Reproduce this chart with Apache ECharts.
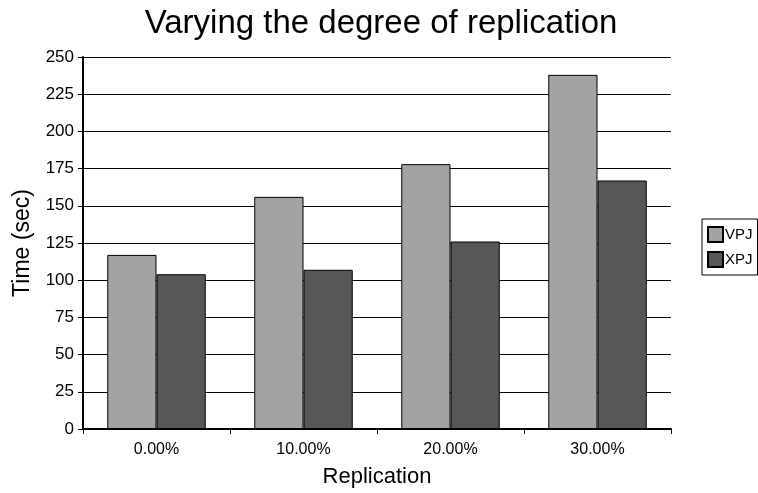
<!DOCTYPE html>
<html>
<head>
<meta charset="utf-8">
<script src="https://cdn.jsdelivr.net/npm/echarts@6/dist/echarts.min.js"></script>
<style>html,body{margin:0;padding:0;background:#fff}#c{width:758px;height:493px}</style>
</head>
<body>
<div id="c"></div>
<script>
const categories = ['0.00%', '10.00%', '20.00%', '30.00%'];
const vpj = [117, 156, 178, 238];
const xpj = [104, 107, 126, 167];
const yTicks = [0, 25, 50, 75, 100, 125, 150, 175, 200, 225, 250];

const FONT = '"Liberation Sans", Arial, sans-serif';
const chart = echarts.init(document.getElementById('c'));
chart.setOption({
  backgroundColor: '#fff',
  animation: false,
  textStyle: { fontFamily: FONT, color: '#000' },
  title: {
    text: 'Varying the degree of replication',
    left: 376, top: 2, textAlign: 'center',
    textStyle: { fontSize: 33, fontWeight: 'normal', color: '#000', fontFamily: FONT }
  },
  legend: {
    orient: 'vertical',
    left: 702, top: 219,
    padding: [7, 5, 7, 5],
    itemGap: 8,
    itemWidth: 15, itemHeight: 15,
    icon: 'rect',
    borderColor: '#000', borderWidth: 1,
    textStyle: { fontSize: 15, color: '#000', fontFamily: FONT, padding: [0, 0, 0, -3] },
    data: ['VPJ', 'XPJ']
  },
  grid: { left: 83, right: 87, top: 57, bottom: 62, containLabel: false },
  xAxis: {
    type: 'category',
    data: categories,
    name: 'Replication',
    nameLocation: 'middle',
    nameGap: 37,
    nameTextStyle: { fontSize: 22, color: '#000', fontFamily: FONT },
    axisLine: { lineStyle: { color: '#000', width: 2 } },
    axisTick: { show: true, alignWithLabel: false, length: 5, lineStyle: { color: '#000' } },
    axisLabel: { fontSize: 16, color: '#000', margin: 13, fontFamily: FONT }
  },
  yAxis: {
    type: 'value',
    min: 0, max: 250, interval: 25,
    name: 'Time (sec)',
    nameLocation: 'middle',
    nameGap: 49,
    nameTextStyle: { fontSize: 23, color: '#000', fontFamily: FONT },
    axisLine: { show: true, lineStyle: { color: '#000', width: 2 } },
    axisTick: { show: true, length: 5, lineStyle: { color: '#000' } },
    axisLabel: { fontSize: 17, color: '#000', margin: 9, fontFamily: FONT,
      formatter: v => yTicks.includes(v) ? String(v) : '' },
    splitLine: { show: true, lineStyle: { color: '#000', width: 1 } }
  },
  series: [
    { name: 'VPJ', type: 'bar', data: vpj, barGap: '0%', barCategoryGap: '33%',
      itemStyle: { color: '#a3a3a3', borderColor: '#000', borderWidth: 1 } },
    { name: 'XPJ', type: 'bar', data: xpj, barGap: '0%', barCategoryGap: '33%',
      itemStyle: { color: '#575757', borderColor: '#000', borderWidth: 1 } }
  ]
});
</script>
</body>
</html>
